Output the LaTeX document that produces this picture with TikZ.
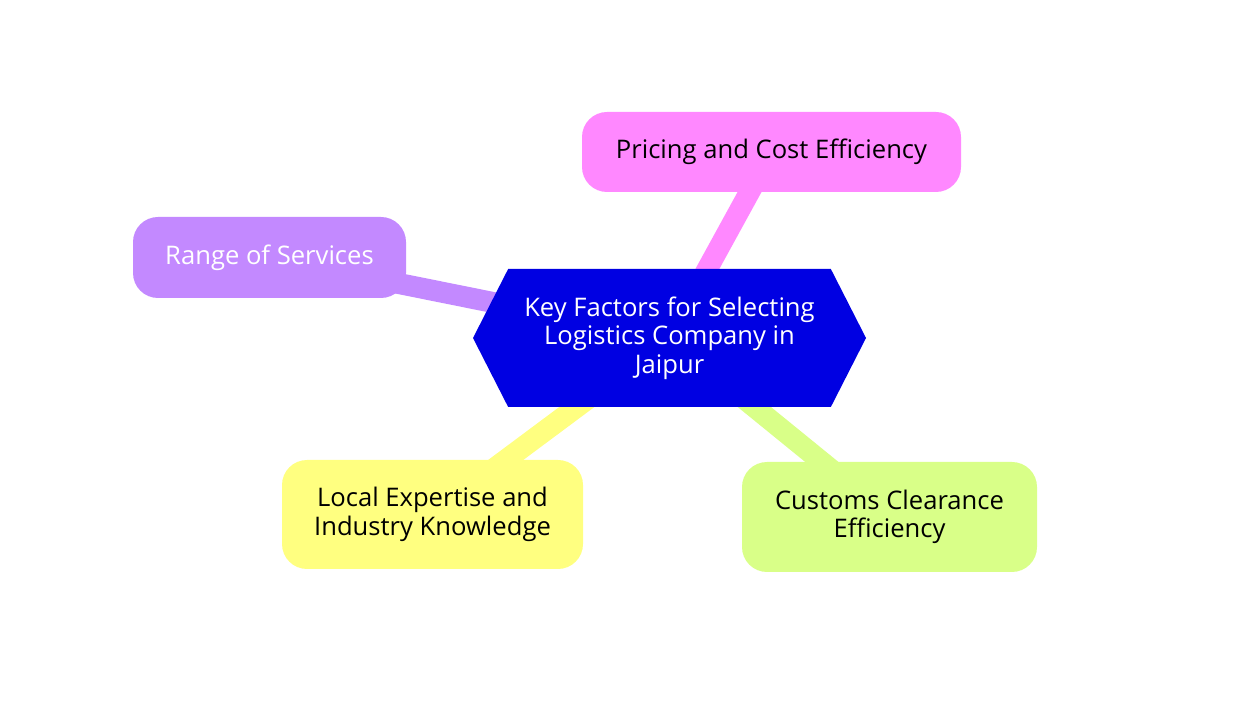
\documentclass[tikz,border=0pt]{standalone}
\usepackage{fontspec}
\setmainfont{Open Sans}
\usepackage{tikz}
\usetikzlibrary{shapes.symbols, backgrounds}
\definecolor{hubblue}{HTML}{0000E2}
\definecolor{pinkleaf}{HTML}{FF88FF}
\definecolor{violetleaf}{HTML}{C389FF}
\definecolor{yellowleaf}{HTML}{FFFF80}
\definecolor{limeleaf}{HTML}{D9FF88}

\begin{document}
\begin{tikzpicture}[
  x=0.5pt, y=-0.5pt,
  hub/.style={signal, signal to=east and west, signal pointer angle=126,
              fill=hubblue, draw=none, text=white, align=center,
              minimum width=196.5pt, minimum height=69pt, inner sep=2pt,
              font=\fontsize{12.8}{14.25}\selectfont},
  leaf/.style={rectangle, rounded corners=12.5pt, draw=none, align=center,
               inner sep=2pt, font=\fontsize{12.8}{14.25}\selectfont},
  spoke/.style={line width=10.5pt}
]
  \useasboundingbox (0,0) rectangle (1254,716);

  \node[hub] (hub) at (669.5,338) {Key Factors for Selecting\\Logistics Company in\\Jaipur};
  \node[leaf, fill=pinkleaf, minimum width=189.5pt, minimum height=40pt] (pricing) at (771.5,152) {Pricing and Cost Efficiency};
  \node[leaf, fill=violetleaf, text=white, minimum width=136.5pt, minimum height=40.5pt] (range) at (269.5,257.5) {Range of Services};
  \node[leaf, fill=yellowleaf, minimum width=150.5pt, minimum height=54.5pt] (local) at (432.5,514.5) {Local Expertise and\\Industry Knowledge};
  \node[leaf, fill=limeleaf, minimum width=147.5pt, minimum height=55pt] (customs) at (889.5,517) {Customs Clearance\\Efficiency};

  % spokes behind the boxes
  \begin{scope}[on background layer]
    \draw[spoke, pinkleaf] (hub.center) -- (pricing.center);
    \draw[spoke, violetleaf] (hub.center) -- (range.center);
    \draw[spoke, yellowleaf] (hub.center) -- (local.center);
    \draw[spoke, limeleaf] (hub.center) -- (customs.center);
  \end{scope}
\end{tikzpicture}
\end{document}
